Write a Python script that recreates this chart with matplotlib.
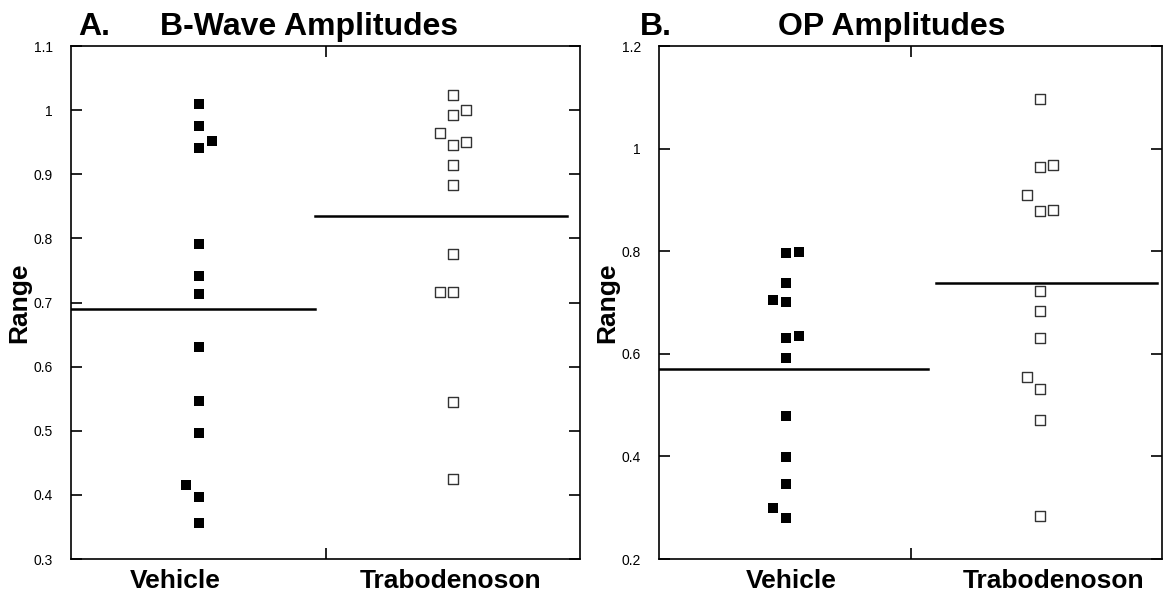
# scatter plots of b-wave and OP amplitudes, vehicle vs trabodenoson
import matplotlib
matplotlib.use('Agg')
import matplotlib.pyplot as plt
import numpy as np

plt.rcParams['font.family'] = ['Liberation Sans', 'DejaVu Sans']

groups = ['Vehicle', 'Trabodenoson']

# panel A data (x offset in units of point spacing: 0 centre, 1 right, -1 left)
bwave_veh = [1.009, 0.975, 0.952, 0.941, 0.792, 0.741, 0.714, 0.631, 0.547, 0.497, 0.416, 0.397, 0.356]
bwave_veh_off = [0, 0, 1, 0, 0, 0, 0, 0, 0, 0, -1, 0, 0]
bwave_tra = [1.024, 1.001, 0.992, 0.965, 0.951, 0.945, 0.915, 0.884, 0.775, 0.717, 0.717, 0.545, 0.425]
bwave_tra_off = [0, 1, 0, -1, 1, 0, 0, 0, 0, -1, 0, 0, 0]
bwave_means = [0.690, 0.835]

# panel B data
op_veh = [0.799, 0.796, 0.738, 0.704, 0.701, 0.634, 0.631, 0.591, 0.479, 0.398, 0.346, 0.299, 0.279]
op_veh_off = [1, 0, 0, -1, 0, 1, 0, 0, 0, 0, 0, -1, 0]
op_tra = [1.097, 0.969, 0.964, 0.909, 0.881, 0.878, 0.722, 0.684, 0.630, 0.555, 0.531, 0.471, 0.284]
op_tra_off = [0, 1, 0, -1, 1, 0, 0, 0, 0, -1, 0, 0, 0]
op_means = [0.570, 0.738]


def draw_panel(ax, veh, veh_off, tra, tra_off, means, xpos, label_pos, mean_spans,
               ylim, yticks, yticklabels):
    step = 0.05
    ax.scatter(xpos[0] + step * np.array(veh_off), veh, marker='s', s=50,
               color='black', linewidths=0, zorder=3)
    ax.scatter(xpos[1] + step * np.array(tra_off), tra, marker='s', s=46,
               facecolor='white', edgecolor='#333333', linewidths=1.0, zorder=3)
    # group means
    for m, (x0, x1) in zip(means, mean_spans):
        ax.plot([x0, x1], [m, m], color='black', linewidth=1.8, zorder=2)
    ax.set_xlim(0, 2)
    ax.set_ylim(*ylim)
    ax.set_yticks(yticks)
    ax.set_yticklabels(yticklabels, fontsize=10)
    ax.tick_params(axis='y', direction='in', length=8, width=1.2, left=True, right=True, pad=13)
    # x tick labels with no marks, separator tick in the middle
    ax.set_xticks(label_pos)
    ax.set_xticklabels(groups, fontsize=19, fontweight='bold')
    ax.tick_params(axis='x', which='major', length=0, pad=7)
    ax.set_xticks([1], minor=True)
    ax.tick_params(axis='x', which='minor', direction='in', length=8, width=1.2, top=True, bottom=True)
    for sp in ax.spines.values():
        sp.set_linewidth(1.2)
    ax.set_ylabel('Range', fontsize=19, fontweight='bold', labelpad=2)


fig = plt.figure(figsize=(11.64, 5.94), dpi=100)
ax1 = fig.add_axes([0.0610, 0.0589, 0.4373, 0.8636])
ax2 = fig.add_axes([0.5662, 0.0589, 0.4321, 0.8636])

draw_panel(ax1, bwave_veh, bwave_veh_off, bwave_tra, bwave_tra_off, bwave_means,
           [0.503, 1.501], [0.41, 1.49], [(0, 0.96), (0.96, 1.95)],
           (0.3, 1.1), np.arange(0.3, 1.11, 0.1),
           ['0.3', '0.4', '0.5', '0.6', '0.7', '0.8', '0.9', '1', '1.1'])
draw_panel(ax2, op_veh, op_veh_off, op_tra, op_tra_off, op_means,
           [0.505, 1.515], [0.525, 1.57], [(0, 1.07), (1.1, 1.98)],
           (0.2, 1.2), np.arange(0.2, 1.21, 0.2),
           ['0.2', '0.4', '0.6', '0.8', '1', '1.2'])

# panel titles
fig.text(0.067, 0.941, 'A.', fontsize=23, fontweight='bold', va='baseline')
fig.text(0.1375, 0.941, 'B-Wave Amplitudes', fontsize=23, fontweight='bold', va='baseline')
fig.text(0.550, 0.941, 'B.', fontsize=23, fontweight='bold', va='baseline')
fig.text(0.668, 0.941, 'OP Amplitudes', fontsize=23, fontweight='bold', va='baseline')

fig.savefig('out.png', dpi=100)
